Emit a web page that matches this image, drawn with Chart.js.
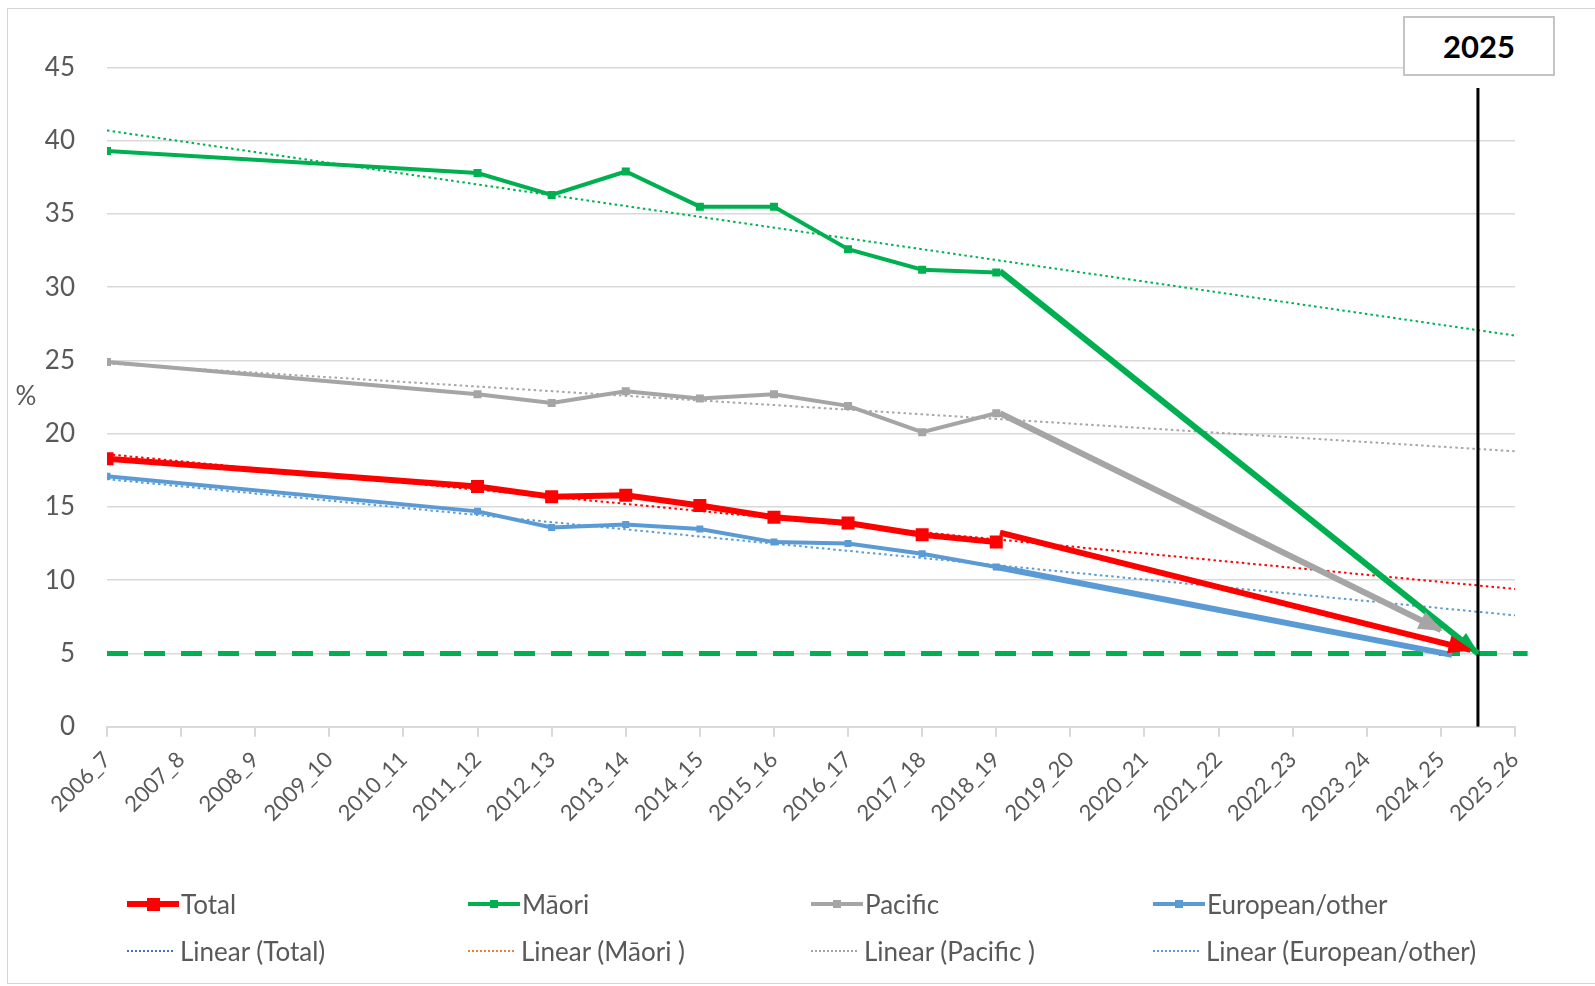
<!DOCTYPE html>
<html>
<head>
<meta charset="utf-8">
<script src="https://cdn.jsdelivr.net/npm/chart.js@4/dist/chart.umd.min.js"></script>
<style>
  body { margin: 0; background: #fff; font-family: Lato, sans-serif; color: #595959; }
  #wrap { position: relative; width: 1595px; height: 986px; overflow: hidden; }
  #frame { position: absolute; left: 7px; top: 8px; width: 1610px; height: 976px; border: 1px solid #d4d4d4; box-sizing: border-box; }
  #chart { position: absolute; left: 0; top: 0; }
  #box { position: absolute; left: 1403px; top: 16px; width: 152px; height: 60px; border: 2px solid #c4c4c4;
         box-sizing: border-box; background: #fff; color: #000; font: bold 31px Lato, sans-serif;
         text-align: center; line-height: 56px; }
  .leg { position: absolute; display: flex; align-items: center; height: 30px; font-size: 26px; white-space: nowrap; }
  .sw { position: relative; width: 52px; height: 30px; margin-right: 2px; }
  .sw .ln { position: absolute; left: 0; right: 0; top: 50%; }
  .sw .mk { position: absolute; left: 50%; top: 50%; }
</style>
</head>
<body>
<div id="wrap">
  <div id="frame"></div>
  <canvas id="chart" width="1595" height="986"></canvas>
  <div id="box">2025</div>
  <div id="legend"></div>
</div>
<script>
// categories
const years = ["2006_7","2007_8","2008_9","2009_10","2010_11","2011_12","2012_13","2013_14","2014_15","2015_16",
               "2016_17","2017_18","2018_19","2019_20","2020_21","2021_22","2022_23","2023_24","2024_25","2025_26"];

// series (% per year, null = no survey)
const total    = [18.3, null, null, null, null, 16.4, 15.7, 15.8, 15.1, 14.3, 13.9, 13.1, 12.6];
const maori    = [39.3, null, null, null, null, 37.8, 36.3, 37.9, 35.5, 35.5, 32.6, 31.2, 31.0];
const pacific  = [24.9, null, null, null, null, 22.7, 22.1, 22.9, 22.4, 22.7, 21.9, 20.1, 21.4];
const european = [17.1, null, null, null, null, 14.7, 13.6, 13.8, 13.5, 12.6, 12.5, 11.8, 10.9];

// linear trend lines, value at 2006_7 and at 2025_26
const trendTotal    = [18.6, 9.4];
const trendMaori    = [40.7, 26.7];
const trendPacific  = [24.8, 18.8];
const trendEuropean = [16.9, 7.6];

// arrows towards the 2025 goal: [x index, value]
const arrowTotal    = [[12.05, 13.25], [18.4, 5.25]];
const arrowMaori    = [[12.05, 31.1], [18.5, 5.0]];
const arrowPacific  = [[12.05, 21.4], [18.0, 6.6]];
const lineEuropean  = [[12, 10.9], [18.15, 4.9]];

// goal and 2025 marker
const goal = 5;
const goalSpan = [0, 19.17];
const marker2025 = 18.5;
const markerTop = 43.6;

const pts = arr => arr.map((v, i) => v == null ? null : { x: i, y: v }).filter(p => p);
const pair = arr => arr.map(p => ({ x: p[0], y: p[1] }));
const trend = t => [{ x: 0, y: t[0] }, { x: years.length - 1, y: t[1] }];

const RED = "#FF0000", GREEN = "#00B050", GREY = "#A5A5A5", BLUE = "#5B9BD5";

function series(data, color, width, side, order) {
  return { data: pts(data), borderColor: color, backgroundColor: color, borderWidth: width,
           pointStyle: "rect", pointRadius: side / Math.SQRT2, pointBorderWidth: 0,
           pointBackgroundColor: color, order: order };
}
function trendLine(t, color) {
  return { data: trend(t), borderColor: color, borderWidth: 2, borderDash: [2.5, 3.2],
           pointRadius: 0, order: 5 };
}
function arrow(p, color, head) {
  return { data: pair(p), borderColor: color, borderWidth: 6, pointRadius: 0,
           arrowHead: head, order: 1 };
}

const extras = {
  id: "extras",
  afterDatasetsDraw(chart) {
    const ctx = chart.ctx;
    chart.data.datasets.forEach((ds, i) => {
      if (!ds.arrowHead) return;
      const d = chart.getDatasetMeta(i).data;
      const a = d[d.length - 2], b = d[d.length - 1];
      const ang = Math.atan2(b.y - a.y, b.x - a.x);
      ctx.save();
      ctx.translate(b.x, b.y);
      ctx.rotate(ang);
      ctx.beginPath();
      ctx.moveTo(2, 0);
      ctx.lineTo(-ds.arrowHead[0], -ds.arrowHead[1] / 2);
      ctx.lineTo(-ds.arrowHead[0], ds.arrowHead[1] / 2);
      ctx.closePath();
      ctx.fillStyle = ds.borderColor;
      ctx.fill();
      ctx.restore();
    });
    const y = chart.scales.y;
    ctx.save();
    ctx.font = "26px Lato";
    ctx.fillStyle = "#595959";
    ctx.textAlign = "center";
    ctx.textBaseline = "middle";
    ctx.fillText("%", 26, y.getPixelForValue(22.5));
    ctx.restore();
  }
};

new Chart(document.getElementById("chart"), {
  type: "line",
  data: {
    datasets: [
      arrow(arrowMaori, GREEN, [22, 17]),
      arrow(arrowTotal, RED, [22, 18]),
      arrow(arrowPacific, GREY, [22, 19]),
      { data: pair(lineEuropean), borderColor: BLUE, borderWidth: 6, pointRadius: 0, order: 2 },
      { data: [{ x: marker2025, y: markerTop }, { x: marker2025, y: 0 }], borderColor: "#000",
        borderWidth: 3, pointRadius: 0, order: 1.5 },
      series(total, RED, 6, 13, 3),
      series(maori, GREEN, 4, 8, 3),
      series(pacific, GREY, 4, 8, 3),
      series(european, BLUE, 4, 7, 3),
      trendLine(trendTotal, RED),
      trendLine(trendMaori, GREEN),
      trendLine(trendPacific, GREY),
      trendLine(trendEuropean, BLUE),
      { data: goalSpan.map(x => ({ x: x, y: goal })), borderColor: GREEN, borderWidth: 5,
        borderDash: [21, 16], pointRadius: 0, order: 6, clip: 20 }
    ]
  },
  options: {
    responsive: false,
    animation: false,
    devicePixelRatio: 1,
    layout: { padding: { left: 0, top: 67.5, right: 80, bottom: 149.3 } },
    plugins: { legend: { display: false }, tooltip: { enabled: false } },
    scales: {
      x: {
        type: "linear", min: 0, max: years.length - 1,
        ticks: { stepSize: 1, autoSkip: false, minRotation: 45, maxRotation: 45, padding: 10,
                 color: "#595959", font: { family: "Lato", size: 22 }, callback: v => years[v] },
        grid: { drawOnChartArea: false, drawTicks: true, tickLength: 10, color: "#d9d9d9", lineWidth: 2 },
        border: { color: "#d9d9d9", width: 2 },
        afterFit: s => { s.height = 110; }
      },
      y: {
        min: 0, max: 45,
        ticks: { stepSize: 5, padding: 32, color: "#595959", font: { family: "Lato", size: 26 } },
        grid: { color: "#d9d9d9", lineWidth: 1.5, drawTicks: false },
        border: { display: false },
        afterFit: s => { s.width = 107; }
      }
    }
  },
  plugins: [extras]
});

// legend, laid out in four columns like the original
const legendItems = [
  { text: "Total", color: RED, line: 6, mark: 13, x: 127, y: 904 },
  { text: "Māori", color: GREEN, line: 4, mark: 8, x: 468, y: 904 },
  { text: "Pacific", color: GREY, line: 4, mark: 8, x: 811, y: 904 },
  { text: "European/other", color: BLUE, line: 4, mark: 8, x: 1153, y: 904 },
  { text: "Linear (Total)", color: "#4472C4", dotted: true, x: 127, y: 951 },
  { text: "Linear (Māori )", color: "#ED7D31", dotted: true, x: 468, y: 951 },
  { text: "Linear (Pacific )", color: GREY, dotted: true, x: 811, y: 951 },
  { text: "Linear (European/other)", color: BLUE, dotted: true, x: 1153, y: 951 }
];
const legend = document.getElementById("legend");
legendItems.forEach(it => {
  const el = document.createElement("div");
  el.className = "leg";
  el.style.left = it.x + "px";
  el.style.top = (it.y - 15) + "px";
  const sw = document.createElement("div");
  sw.className = "sw";
  const ln = document.createElement("div");
  ln.className = "ln";
  if (it.dotted) {
    sw.style.width = "46px";
    sw.style.marginRight = "7px";
    ln.style.borderTop = "2px dotted " + it.color;
    ln.style.marginTop = "-1px";
  } else {
    ln.style.height = it.line + "px";
    ln.style.marginTop = (-it.line / 2) + "px";
    ln.style.background = it.color;
    const mk = document.createElement("div");
    mk.className = "mk";
    mk.style.width = mk.style.height = it.mark + "px";
    mk.style.marginLeft = mk.style.marginTop = (-it.mark / 2) + "px";
    mk.style.background = it.color;
    sw.appendChild(mk);
  }
  sw.insertBefore(ln, sw.firstChild);
  el.appendChild(sw);
  el.appendChild(document.createTextNode(it.text));
  legend.appendChild(el);
});
</script>
</body>
</html>
